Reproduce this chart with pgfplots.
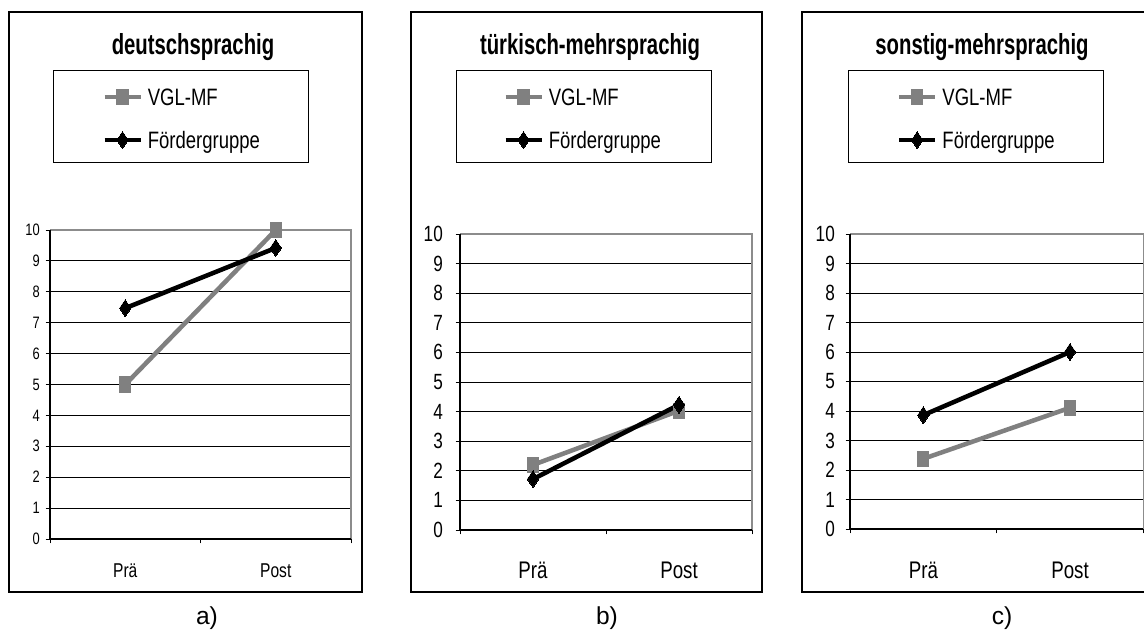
\documentclass[border=0pt]{standalone}
\usepackage{pgfplots}
\pgfplotsset{compat=1.18}
\usepackage{fontspec}
\setmainfont{Liberation Sans}[FakeStretch=0.78]
\newfontfamily\titlefont{Liberation Sans}[FakeStretch=0.70]
\newfontfamily\capfont{Liberation Sans}
\definecolor{vgl}{HTML}{808080}
\definecolor{bord}{HTML}{8C8C8C}

\pgfplotsset{
  panel/.style={
    scale only axis, anchor=south west, clip=false,
    xmin=0, xmax=2, ymin=0, ymax=10,
    xtick={0,1,2}, xticklabels={},
    extra x ticks={0.5,1.5}, extra x tick labels={Prä,Post},
    extra x tick style={major tick length=0pt, grid=none},
    ytick={0,1,...,10},
    ymajorgrids, major grid style={black, line width=0.65pt},
    tick pos=left, tick align=outside, major tick length=3.2pt,
    tick style={black, line width=0.7pt},
    axis line style={draw=none},
    /pgf/number format/assume math mode=true,
    legend cell align=left,
    legend image code/.code={\draw[mark repeat=2,mark phase=2,##1] plot coordinates {(0pt,0pt) (13.5pt,0pt) (27pt,0pt)};},
    legend style={draw=none, fill=none, anchor=west, inner sep=0pt,
      row sep=20pt, column sep=3.75pt,
      nodes={inner sep=0pt, text height=12.3pt, text depth=0pt,
        font=\fontsize{17.8pt}{20pt}\selectfont}},
  },
  vglplot/.style={vgl, line width=3.4pt, mark=square*, mark size=4.2pt,
    mark options={solid, fill=vgl, draw=vgl, line width=0pt, yscale=1.35}},
  fgplot/.style={black, line width=3.4pt, mark=diamond*, mark size=6.3pt,
    mark options={solid, fill=black, draw=black, line width=0pt, xscale=0.9}},
}

\newcommand{\drawborders}{%
  \draw[bord, line width=1.1pt] (rel axis cs:0,1) -- (rel axis cs:1,1) -- (rel axis cs:1,0);
  \draw[black, line width=0.8pt] (rel axis cs:0,1) -- (rel axis cs:0,0) -- (rel axis cs:1,0);
}

\begin{document}
\begin{tikzpicture}
\path[use as bounding box] (0pt,0pt) rectangle (858pt,474pt);

% outer frames
\draw[black, line width=1.1pt] (6.75pt,30pt) rectangle (271.5pt,465pt);
\draw[black, line width=1.1pt] (308.25pt,30pt) rectangle (571.5pt,465pt);
\draw[black, line width=1.1pt] (601.5pt,30pt) rectangle (880pt,465pt);

% legend boxes
\draw[black, line width=0.75pt] (39.75pt,351.75pt) rectangle (231pt,420.75pt);
\draw[black, line width=0.75pt] (342pt,351.75pt) rectangle (533.25pt,420.75pt);
\draw[black, line width=0.75pt] (636pt,351.75pt) rectangle (827.25pt,420.75pt);

% titles
\node[anchor=base, font=\titlefont\bfseries\fontsize{21.75pt}{24pt}\selectfont] at (144.75pt,432.75pt) {deutschsprachig};
\node[anchor=base, font=\titlefont\bfseries\fontsize{21.75pt}{24pt}\selectfont] at (442.5pt,432.75pt) {türkisch-mehrsprachig};
\node[anchor=base, font=\titlefont\bfseries\fontsize{21.75pt}{24pt}\selectfont] at (736.5pt,432.75pt) {sonstig-mehrsprachig};

% captions
\node[anchor=base, font=\capfont\fontsize{18.4pt}{20pt}\selectfont] at (155.25pt,5.3pt) {a)};
\node[anchor=base, font=\capfont\fontsize{18.4pt}{20pt}\selectfont] at (455.25pt,5.3pt) {b)};
\node[anchor=base, font=\capfont\fontsize{18.4pt}{20pt}\selectfont] at (751.5pt,5.3pt) {c)};

% panel a
\begin{axis}[panel, at={(37.5pt,69.75pt)}, width=225.75pt, height=231.75pt,
  yticklabel style={font=\fontsize{12.4pt}{14pt}\selectfont, anchor=east, inner sep=0pt, xshift=-4.3pt},
  xticklabel style={font=\fontsize{15pt}{17pt}\selectfont, anchor=base, yshift=-28.5pt},
  legend style={at={(0.1728,1.3607)}}]
\addplot[vglplot] coordinates {(0.5,5.0) (1.5,10.0)};
\addplot[fgplot] coordinates {(0.5,7.47) (1.5,9.42)};
\legend{VGL-MF, Fördergruppe}
\drawborders
\end{axis}

% panel b
\begin{axis}[panel, at={(345pt,76.5pt)}, width=219pt, height=222pt,
  yticklabel style={font=\fontsize{16.5pt}{18pt}\selectfont, anchor=east, inner sep=0pt, xshift=-9.5pt},
  xticklabel style={font=\fontsize{18pt}{20pt}\selectfont, anchor=base, yshift=-36pt},
  legend style={at={(0.1473,1.390)}}]
\addplot[vglplot] coordinates {(0.5,2.2) (1.5,4.03)};
\addplot[fgplot] coordinates {(0.5,1.72) (1.5,4.23)};
\legend{VGL-MF, Fördergruppe}
\drawborders
\end{axis}

% panel c
\begin{axis}[panel, at={(637.5pt,77.25pt)}, width=220pt, height=221.25pt,
  yticklabel style={font=\fontsize{16.5pt}{18pt}\selectfont, anchor=east, inner sep=0pt, xshift=-8pt},
  xticklabel style={font=\fontsize{18pt}{20pt}\selectfont, anchor=base, yshift=-36.75pt},
  legend style={at={(0.159,1.3914)}}]
\addplot[vglplot] coordinates {(0.5,2.38) (1.5,4.11)};
\addplot[fgplot] coordinates {(0.5,3.86) (1.5,6.0)};
\legend{VGL-MF, Fördergruppe}
\drawborders
\end{axis}
\end{tikzpicture}
\end{document}
